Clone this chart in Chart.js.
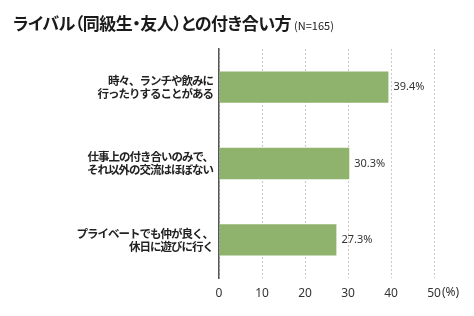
<!DOCTYPE html>
<html>
<head>
<meta charset="utf-8">
<script src="https://cdn.jsdelivr.net/npm/chart.js@4/dist/chart.umd.min.js"></script>
<style>
  body { margin: 0; background: #fff; }
  #wrap { position: relative; width: 474px; height: 316px; }
  #title {
    position: absolute; left: 13px; top: 10px;
    font-family: "Noto Sans CJK JP", sans-serif; font-weight: bold;
    font-size: 17px; color: #1a1a1a; white-space: nowrap;
    font-feature-settings: "palt"; letter-spacing: -0.5px;
  }
  #title small { font-size: 11px; font-weight: normal; margin-left: 3px; letter-spacing: 0; }
  canvas { position: absolute; left: 0; top: 0; }
</style>
</head>
<body>
<div id="wrap">
  <canvas id="barChart" width="474" height="316"></canvas>
  <div id="title">ライバル（同級生・友人）との付き合い方<small>(N=165)</small></div>
</div>
<script>
const categories = [
  ["時々、ランチや飲みに", "行ったりすることがある"],
  ["仕事上の付き合いのみで、", "それ以外の交流はほぼない"],
  ["プライベートでも仲が良く、", "休日に遊びに行く"],
];
const values = [39.4, 30.3, 27.3];
const tickValues = [0, 10, 20, 30, 40, 50];

// value labels next to each bar + "(%)" after the last tick
const labelPlugin = {
  id: "barLabels",
  afterDatasetsDraw(chart) {
    const ctx = chart.ctx;
    const meta = chart.getDatasetMeta(0);
    ctx.save();
    ctx.font = "11px 'Noto Sans', sans-serif";
    ctx.fillStyle = "#333";
    ctx.textBaseline = "middle";
    ctx.textAlign = "left";
    meta.data.forEach((bar, i) => {
      ctx.fillText(values[i].toFixed(1) + "%", bar.x + 5, bar.y);
    });
    const x = chart.scales.x;
    const last = tickValues[tickValues.length - 1];
    ctx.font = "12px 'Noto Sans', sans-serif";
    ctx.fillText("(%)", x.getPixelForValue(last) + 8, x.top + 15);
    ctx.restore();
  },
};

var ctx = document.getElementById("barChart").getContext("2d");
var myBarChart = new Chart(ctx, {
  type: "bar",
  data: {
    labels: categories,
    datasets: [
      {
        data: values,
        backgroundColor: "#8fb26c",
        barPercentage: 0.41,
        categoryPercentage: 1,
      },
    ],
  },
  options: {
    indexAxis: "y",
    responsive: false,
    animation: false,
    layout: { padding: { top: 49, right: 40, left: 0, bottom: 0 } },
    plugins: { legend: { display: false }, tooltip: { enabled: false } },
    scales: {
      x: {
        min: 0,
        max: 50,
        afterBuildTicks: (scale) => {
          scale.ticks = tickValues.map((v) => ({ value: v }));
        },
        afterFit: (scale) => {
          scale.height = 38;
        },
        grid: { color: "#c8c8c8", drawTicks: false, lineWidth: 1 },
        border: { display: false, dash: [2, 2] },
        ticks: {
          padding: 8,
          color: "#333",
          font: { family: "'Noto Sans', sans-serif", size: 12 },
        },
      },
      y: {
        afterFit: (scale) => {
          scale.width = 219;
          // tighter kana spacing for the category labels
          if (!scale._tight) {
            const orig = scale.drawLabels;
            scale.drawLabels = function (area) {
              this.ctx.save();
              this.ctx.letterSpacing = "-1px";
              orig.call(this, area);
              this.ctx.restore();
            };
            scale._tight = true;
          }
        },
        grid: { display: false, drawTicks: false },
        border: { display: true, color: "#555", width: 1.5 },
        ticks: {
          padding: 6,
          color: "#222",
          font: { family: "'Noto Sans CJK JP', sans-serif", size: 11.5, weight: "bold", lineHeight: 1.15 },
        },
      },
    },
  },
  plugins: [labelPlugin],
});
</script>
</body>
</html>
